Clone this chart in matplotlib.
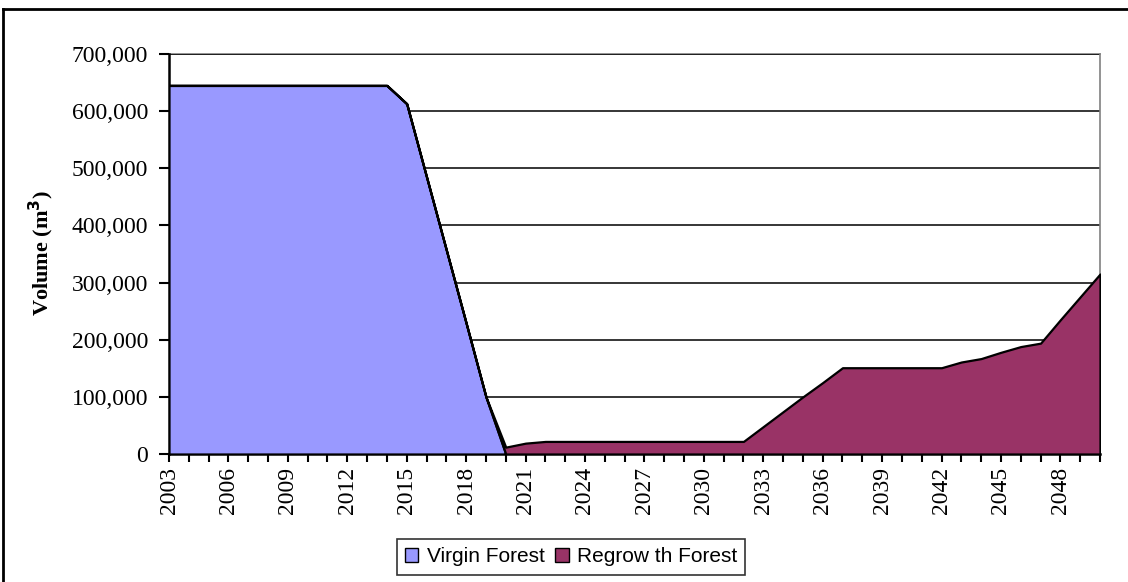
import matplotlib
matplotlib.use("Agg")
import matplotlib.pyplot as plt
from matplotlib.patches import Patch
from matplotlib.lines import Line2D
from matplotlib.ticker import FuncFormatter, MultipleLocator

years = list(range(2003, 2051))
virgin = [645000, 645000, 645000, 645000, 645000, 645000, 645000, 645000, 645000, 645000,
          645000, 645000, 613000, 485000, 357000, 229000, 100000, 0, 0, 0,
          0, 0, 0, 0, 0, 0, 0, 0, 0, 0,
          0, 0, 0, 0, 0, 0, 0, 0, 0, 0,
          0, 0, 0, 0, 0, 0, 0, 0]
regrowth = [0, 0, 0, 0, 0, 0, 0, 0, 0, 0,
            0, 0, 0, 0, 0, 0, 0, 12000, 19000, 22000,
            22000, 22000, 22000, 22000, 22000, 22000, 22000, 22000, 22000, 22000,
            48000, 74000, 100000, 125000, 151000, 151000, 151000, 151000, 151000, 151000,
            161000, 167000, 178000, 188000, 194000, 235000, 275000, 315000]
labels = ["Virgin Forest", "Regrow th Forest"]
colors = ["#9999FF", "#993366"]
tick_years = list(range(2003, 2049, 3))

serif = "Liberation Serif"
sans = "Liberation Sans"

fig = plt.figure(figsize=(11.28, 5.82), dpi=100)
ax = fig.add_axes([169 / 1128, 1 - 454 / 582, (1100 - 169) / 1128, 400 / 582])

ax.stackplot(years, virgin, regrowth, colors=colors, edgecolor="black",
             linewidth=1.6, zorder=3)

ax.set_xlim(2003, 2050)
ax.set_ylim(0, 700000)
ax.yaxis.set_major_locator(MultipleLocator(100000))
ax.yaxis.set_major_formatter(FuncFormatter(lambda v, p: "{:,.0f}".format(v)))
ax.grid(axis="y", color="black", linewidth=1.1, zorder=1)
ax.set_axisbelow(True)

ax.set_xticks(years, minor=True)
ax.set_xticks(tick_years)
ax.set_xticklabels([str(y) for y in tick_years], rotation=90, fontfamily=serif, fontsize=17)
for t in ax.get_yticklabels():
    t.set_fontfamily(serif)
    t.set_fontsize(17)
ax.tick_params(axis="x", which="both", direction="out", length=6, width=1.5, pad=3.5, color="black")
ax.tick_params(axis="y", direction="out", length=7, width=1.5, pad=8)

ax.spines["left"].set_linewidth(1.8)
ax.spines["bottom"].set_linewidth(1.8)
ax.spines["top"].set_color("#808080")
ax.spines["right"].set_color("#808080")
ax.spines["top"].set_linewidth(1.2)
ax.spines["right"].set_linewidth(1.2)
ax.spines["top"].set_zorder(0)

fig.text(0.037, 0.565, "Volume (m$^\\mathbf{3}$)", rotation=90, ha="center", va="center",
         fontfamily=serif, fontweight="bold", fontsize=16)

handles = [Patch(facecolor=c, edgecolor="black", linewidth=1.0) for c in colors]
leg = fig.legend(handles, labels, loc="center", bbox_to_anchor=(571 / 1128, 1 - 557 / 582),
                 ncol=2, frameon=True, fancybox=False, prop={"family": sans, "size": 15},
                 handlelength=0.65, handleheight=0.65, handletextpad=0.4, columnspacing=0.5,
                 borderpad=0.4, edgecolor="black")
leg.get_frame().set_linewidth(1.2)

# outer chart border (top and left edges visible)
fig.add_artist(Line2D([3 / 1128, 1.0], [1 - 9 / 582, 1 - 9 / 582], transform=fig.transFigure,
                      color="black", linewidth=2))
fig.add_artist(Line2D([3 / 1128, 3 / 1128], [0, 1 - 9 / 582], transform=fig.transFigure,
                      color="black", linewidth=2))

fig.savefig("out.png", dpi=100)
